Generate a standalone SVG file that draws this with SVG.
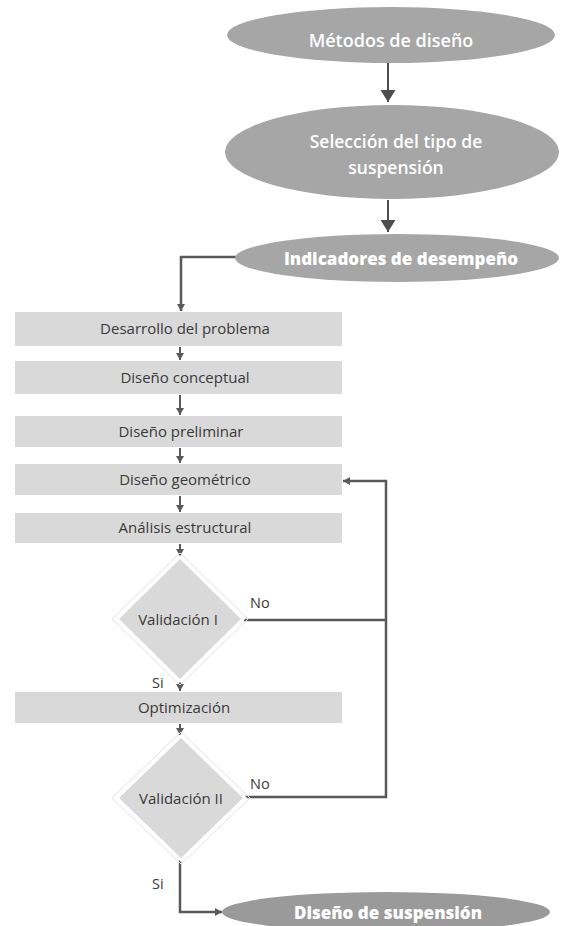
<svg xmlns="http://www.w3.org/2000/svg" width="561" height="926" viewBox="0 0 561 926">
<style>
.ell{fill:#a6a6a6}
.ell2{fill:#9a9a9a}
.box{fill:#d9d9d9}
.dia{fill:#d9d9d9;stroke:#ffffff;stroke-width:3}
.diao{fill:none;stroke:#e2e2e2;stroke-width:1}
.t1{font-family:"Open Sans","Liberation Sans",sans-serif;font-weight:600;fill:#ffffff;text-anchor:middle}
.t2{font-family:"Open Sans","Liberation Sans",sans-serif;font-weight:800;fill:#ffffff;text-anchor:middle}
.bt{font-family:"Open Sans","Liberation Sans",sans-serif;font-size:15px;fill:#3a3a3a;text-anchor:middle}
.lb{font-family:"Open Sans","Liberation Sans",sans-serif;font-size:14.5px;fill:#3a3a3a}
.big{fill:none;stroke:#4d4d4d;stroke-width:2}
.con{fill:none;stroke:#595959;stroke-width:2.5}
.sm{fill:none;stroke:#595959;stroke-width:2}
</style>
<defs>
<marker id="ab" markerUnits="userSpaceOnUse" markerWidth="16" markerHeight="16" refX="12" refY="8" orient="auto">
<path d="M0,0.5 L12,8 L0,15.5 Z" fill="#4d4d4d"/>
</marker>
<marker id="as" markerUnits="userSpaceOnUse" markerWidth="10" markerHeight="10" refX="7" refY="5" orient="auto">
<path d="M0,1 L7,5 L0,9 Z" fill="#595959"/>
</marker>
</defs>
<g id="connectors">
<line class="big" x1="388" y1="63" x2="388" y2="102" marker-end="url(#ab)"/>
<line class="big" x1="388" y1="200" x2="388" y2="232" marker-end="url(#ab)"/>
<polyline class="con" points="236,257 181,257 181,311" marker-end="url(#as)"/>
<line class="sm" x1="180" y1="347" x2="180" y2="360" marker-end="url(#as)"/>
<line class="sm" x1="180" y1="395" x2="180" y2="415" marker-end="url(#as)"/>
<line class="sm" x1="180" y1="448" x2="180" y2="463" marker-end="url(#as)"/>
<line class="sm" x1="180" y1="496" x2="180" y2="512" marker-end="url(#as)"/>
<line class="sm" x1="180" y1="544" x2="180" y2="556" marker-end="url(#as)"/>
<line class="sm" x1="180" y1="681" x2="180" y2="691" marker-end="url(#as)"/>
<line class="sm" x1="180" y1="724" x2="180" y2="735" marker-end="url(#as)"/>
<polyline class="con" points="244,620 386,620"/>
<polyline class="con" points="244,797 386,797 386,481 343,481" marker-end="url(#as)"/>
<polyline class="con" points="180,860 180,912 222,912" marker-end="url(#as)"/>
</g>
<g id="n1"><ellipse class="ell" cx="391" cy="35" rx="164" ry="28"/><text class="t1" x="391" y="47" font-size="18">Métodos de diseño</text></g>
<g id="n2"><ellipse class="ell" cx="392" cy="152" rx="167" ry="47"/><text class="t1" x="396" y="148" font-size="17.5">Selección  del tipo de</text><text class="t1" x="396" y="174" font-size="17.5">suspensión</text></g>
<g id="n3"><ellipse class="ell" cx="397" cy="258" rx="162" ry="24"/><text class="t2" x="401" y="265" font-size="17">Indicadores de desempeño</text></g>
<g id="n4"><rect class="box" x="15" y="312" width="327" height="34"/><text class="bt" x="185" y="334">Desarrollo del problema</text></g>
<g id="n5"><rect class="box" x="15" y="361" width="327" height="33"/><text class="bt" x="185" y="383">Diseño conceptual</text></g>
<g id="n6"><rect class="box" x="15" y="416" width="327" height="31"/><text class="bt" x="181" y="437">Diseño preliminar</text></g>
<g id="n7"><rect class="box" x="15" y="464" width="327" height="31"/><text class="bt" x="185" y="485">Diseño geométrico</text></g>
<g id="n8"><rect class="box" x="15" y="513" width="327" height="30"/><text class="bt" x="185" y="533">Análisis estructural</text></g>
<g id="n9"><polygon class="diao" points="180,553 248,619 180,685 112,619"/><polygon class="dia" points="180,557 243,619 180,681 117,619"/><text class="bt" x="178" y="625">Validación I</text></g>
<text class="lb" x="250" y="608">No</text>
<text class="lb" x="152" y="688">Si</text>
<g id="n10"><rect class="box" x="15" y="692" width="327" height="31"/><text class="bt" x="184" y="713">Optimización</text></g>
<g id="n11"><polygon class="diao" points="181,732 250,798 181,864 112,798"/><polygon class="dia" points="181,736 245,798 181,860 117,798"/><text class="bt" x="181" y="804">Validación II</text></g>
<text class="lb" x="250" y="789">No</text>
<text class="lb" x="152" y="889">Si</text>
<g id="n12"><ellipse class="ell2" cx="386" cy="912" rx="164" ry="20"/><text class="t2" x="388" y="919" font-size="17">Diseño de suspensión</text></g>
</svg>
